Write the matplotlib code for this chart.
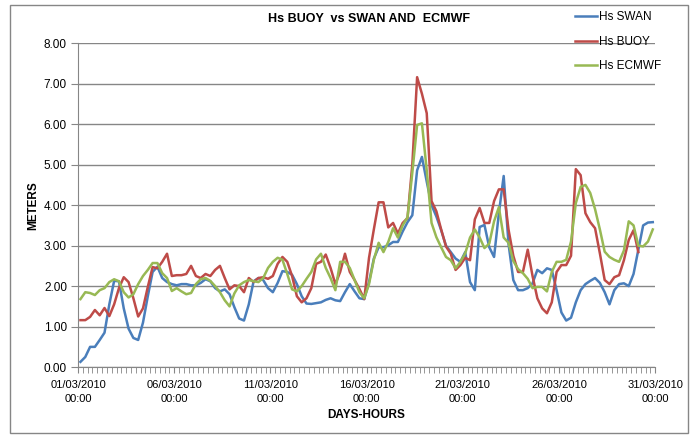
import numpy as np
import pandas as pd
import matplotlib
matplotlib.use("Agg")
import matplotlib.pyplot as plt
from matplotlib.patches import Rectangle
from matplotlib.ticker import MultipleLocator, FormatStrFormatter

plt.rcParams['font.family'] = ['Liberation Sans Narrow', 'Liberation Sans', 'DejaVu Sans']

# 6-hourly significant wave height (m), 01/03/2010 00:00 onwards
hs_swan = [0.13, 0.25, 0.5, 0.5, 0.67, 0.85, 1.55, 2.13, 2.12, 1.45,
           0.95, 0.72, 0.67, 1.1, 1.75, 2.35, 2.48, 2.2, 2.1, 2.05,
           2.02, 2.05, 2.05, 2.02, 2.02, 2.08, 2.17, 2.12, 1.95, 1.87,
           1.92, 1.8, 1.48, 1.2, 1.15, 1.55, 2.12, 2.2, 2.15, 1.95,
           1.85, 2.08, 2.37, 2.35, 2.28, 2.05, 1.75, 1.57, 1.56, 1.58,
           1.6, 1.66, 1.7, 1.65, 1.63, 1.85, 2.05, 1.87, 1.7, 1.68,
           2.1, 2.68, 2.96, 2.96, 3.01, 3.09, 3.09, 3.35, 3.58, 3.75,
           4.86, 5.19, 4.58, 4.0, 3.72, 3.38, 3.0, 2.84, 2.68, 2.6,
           2.84, 2.1, 1.9, 3.46, 3.51, 2.96, 2.72, 3.8, 4.72, 3.05,
           2.15, 1.9, 1.9, 1.95, 2.07, 2.4, 2.32, 2.44, 2.4, 1.9,
           1.35, 1.15, 1.22, 1.6, 1.9, 2.05, 2.13, 2.2, 2.08, 1.85,
           1.55, 1.9, 2.05, 2.07, 2.0, 2.3, 2.9, 3.5, 3.57, 3.58]

hs_buoy = [1.16, 1.16, 1.24, 1.41, 1.28, 1.46, 1.26, 1.55, 1.95, 2.22,
           2.1, 1.7, 1.25, 1.45, 1.98, 2.47, 2.44, 2.6, 2.8, 2.25,
           2.27, 2.27, 2.3, 2.5, 2.25, 2.2, 2.3, 2.25, 2.4, 2.5,
           2.2, 1.92, 2.02, 2.0, 1.85, 2.2, 2.1, 2.2, 2.22, 2.18,
           2.25, 2.55, 2.72, 2.6, 2.25, 1.75, 1.6, 1.7, 1.95, 2.55,
           2.6, 2.78, 2.45, 2.05, 2.35, 2.8, 2.35, 2.15, 1.93, 1.68,
           2.7, 3.4, 4.07, 4.07, 3.45, 3.56, 3.3, 3.56, 3.68, 5.0,
           7.16, 6.75, 6.27, 4.1, 3.85, 3.4, 2.98, 2.8, 2.4, 2.52,
           2.7, 2.64, 3.65, 3.93, 3.56, 3.56, 4.1, 4.39, 4.39, 3.4,
           2.75, 2.35, 2.35, 2.9, 2.25, 1.7, 1.45, 1.33, 1.6, 2.35,
           2.52, 2.52, 2.75, 4.89, 4.74, 3.8, 3.58, 3.43, 2.81, 2.15,
           2.05, 2.22, 2.27, 2.64, 3.14, 3.38, 2.84, np.nan, np.nan, np.nan]

hs_ecmwf = [1.68, 1.85, 1.83, 1.78, 1.9, 1.95, 2.1, 2.17, 2.12, 1.85,
            1.72, 1.8, 2.05, 2.25, 2.4, 2.57, 2.57, 2.32, 2.2, 1.88,
            1.95, 1.87, 1.8, 1.83, 2.05, 2.17, 2.2, 2.13, 2.0, 1.85,
            1.65, 1.5, 1.82, 2.02, 2.1, 2.15, 2.12, 2.1, 2.2, 2.45,
            2.6, 2.7, 2.65, 2.3, 1.92, 1.87, 2.0, 2.18, 2.35, 2.66,
            2.8, 2.45, 2.2, 1.9, 2.6, 2.6, 2.45, 2.15, 1.85, 1.7,
            2.05, 2.65, 3.07, 2.84, 3.09, 3.43, 3.2, 3.5, 3.7, 4.8,
            5.98, 6.02, 4.86, 3.56, 3.21, 2.96, 2.72, 2.64, 2.44, 2.6,
            2.81, 3.2, 3.4, 3.2, 2.94, 3.05, 3.6, 3.95, 3.2, 3.07,
            2.62, 2.42, 2.32, 2.18, 1.95, 1.98, 1.98, 1.87, 2.35, 2.6,
            2.6, 2.65, 3.1, 4.05, 4.45, 4.5, 4.3, 3.9, 3.4, 2.85,
            2.72, 2.65, 2.6, 2.88, 3.6, 3.5, 3.0, 2.98, 3.1, 3.4]

times = pd.date_range('2010-03-01 00:00', periods=len(hs_swan), freq='6h')
label_days = pd.date_range('2010-03-01', '2010-03-31', freq='5D')

blue = '#4a7ebb'
red = '#be4b48'
green = '#98b954'
grid_grey = '#868686'

fig = plt.figure(figsize=(6.97, 4.36), dpi=100)
ax = fig.add_axes([0.112, 0.158, 0.828, 0.743])

# category axis like Excel: each sample sits in the middle of its slot
x = np.arange(len(times)) + 0.5
ax.plot(x, hs_swan, color=blue, lw=1.8, label='Hs SWAN')
ax.plot(x, hs_buoy, color=red, lw=1.8, label='Hs BUOY')
ax.plot(x, hs_ecmwf, color=green, lw=1.8, label='Hs ECMWF')

ax.set_xlim(0, len(times))
ax.set_ylim(0, 8)

ax.yaxis.set_major_locator(MultipleLocator(1))
ax.yaxis.set_major_formatter(FormatStrFormatter('%.2f'))
ax.grid(axis='y', color=grid_grey, lw=1)
ax.set_axisbelow(True)

slots_per_label = 20
ax.set_xticks(np.arange(0, len(times) + 1, slots_per_label))
ax.set_xticklabels([d.strftime('%d/%m/%Y\n%H:%M') for d in label_days],
                   linespacing=1.6)
ax.set_xticks(np.arange(0, len(times) + 1), minor=True)
ax.tick_params(axis='x', which='both', direction='out', length=4,
               color=grid_grey, labelsize=8, pad=5)
ax.tick_params(axis='y', direction='out', length=5, color=grid_grey,
               labelsize=8.5, pad=3)

for side in ['top', 'right']:
    ax.spines[side].set_visible(False)
for side in ['left', 'bottom']:
    ax.spines[side].set_color(grid_grey)

ax.set_xlabel('DAYS-HOURS', fontsize=8.5, fontweight='bold', labelpad=3)
ax.set_ylabel('METERS', fontsize=8.5, fontweight='bold', labelpad=3)
fig.text(0.53, 0.957, 'Hs BUOY  vs SWAN AND  ECMWF', ha='center', va='center',
         fontsize=9, fontweight='bold')

fig.legend(loc='upper left', bbox_to_anchor=(0.818, 0.985), frameon=False,
           fontsize=8.5, handlelength=1.9, handletextpad=0.15,
           labelspacing=1.05, borderaxespad=0)

fig.patches.append(Rectangle((0.015, 0.008), 0.972, 0.98, transform=fig.transFigure,
                             fill=False, edgecolor=grid_grey, lw=1))

fig.savefig('out.png', dpi=100)
